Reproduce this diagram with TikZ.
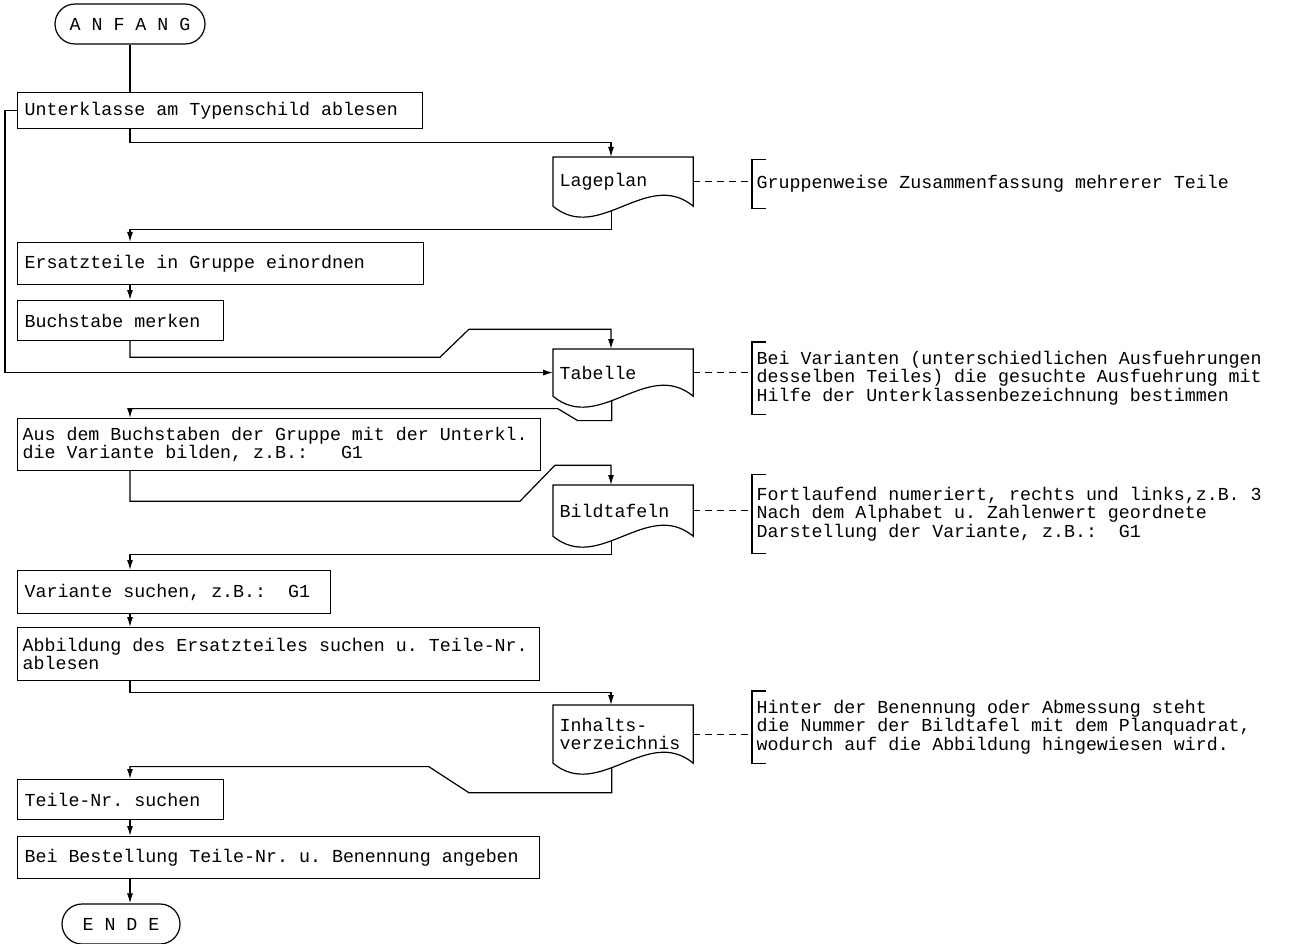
\documentclass[tikz,border=0pt]{standalone}
\usepackage{fontspec}
\setmonofont{Liberation Mono}
\usepackage{tikz}
\usetikzlibrary{arrows.meta, calc}

\begin{document}
\begin{tikzpicture}[x=1pt, y=-1pt, line width=1.2pt, >={Latex[length=10pt,width=6pt]},
		font=\ttfamily\fontsize{18.3}{18.6}\selectfont\frenchspacing,
		procbox/.style={draw, anchor=north west, inner xsep=7pt, inner ysep=0pt, align=flush left, text width=#1},
		docbox/.style={anchor=north west, inner xsep=6pt, inner ysep=0pt, align=flush left, text width=127pt},
		termbox/.style={draw, rounded corners=20pt, minimum height=40pt, inner sep=0pt},
		notebox/.style={anchor=west, inner xsep=4pt, align=left},
		hint/.style={dash pattern=on 7pt off 5pt}]
				\useasboundingbox (0,0) rectangle (1293,944);
				
					\coordinate (ax) at (130,0);
					\coordinate (rc) at (611,0);
					
					\node[termbox, minimum width=150pt] (anfang) at (130,24) {A N F A N G};
					\node[procbox=391pt, minimum height=36pt] (unterkl) at (17,92) {Unterklasse am Typenschild ablesen};
					\node[docbox, minimum height=48pt] (lage) at (553,157) {Lageplan};
					\node[procbox=392pt, minimum height=42pt] (ersatz) at (17,242) {Ersatzteile in Gruppe einordnen};
					\node[procbox=192pt, minimum height=40pt] (merken) at (17,300) {Buchstabe merken};
					\node[docbox, minimum height=46pt] (tab) at (553,349) {Tabelle};
					\node[procbox=513pt, inner xsep=5pt, minimum height=52pt] (aus) at (17,418) {Aus dem Buchstaben der Gruppe mit der Unterkl.\\die Variante bilden, z.B.:~~~G1};
					\node[docbox, minimum height=50pt] (bild) at (553,485) {Bildtafeln};
					\node[procbox=299pt, minimum height=43pt] (variante) at (17,570) {Variante suchen, z.B.:~~G1};
					\node[procbox=512pt, inner xsep=5pt, minimum height=53pt] (abb) at (17,627) {Abbildung des Ersatzteiles suchen u. Teile-Nr.\\ablesen};
					\node[docbox, minimum height=57pt] (inh) at (553,705) {Inhalts-\\verzeichnis};
					\node[procbox=192pt, minimum height=40pt] (teile) at (17,779) {Teile-Nr. suchen};
					\node[procbox=508pt, minimum height=42pt] (bestell) at (17,836) {Bei Bestellung Teile-Nr. u. Benennung angeben};
					\node[termbox, minimum width=118pt] (ende) at (121,924) {E N D E};
					
					\node[notebox, minimum height=48pt] (n1) at (752,184) {Gruppenweise Zusammenfassung mehrerer Teile};
					\node[notebox, minimum height=71pt] (n2) at (752,378) {Bei Varianten (unterschiedlichen Ausfuehrungen\\desselben Teiles) die gesuchte Ausfuehrung mit\\Hilfe der Unterklassenbezeichnung bestimmen};
					\node[notebox, minimum height=78pt] (n3) at (752,514) {Fortlaufend numeriert, rechts und links,z.B. 3\\Nach dem Alphabet u. Zahlenwert geordnete\\Darstellung der Variante, z.B.:~~G1};
					\node[notebox, minimum height=71pt] (n4) at (752,727) {Hinter der Benennung oder Abmessung steht\\die Nummer der Bildtafel mit dem Planquadrat,\\wodurch auf die Abbildung hingewiesen wird.};
					
					\foreach \d in {lage,tab,bild,inh}
						\draw (\d.north west) -- (\d.north east) -- (\d.south east) .. controls +(-46,-38) and +(46,38) .. (\d.south west) coordinate[pos=0.58] (\d-out) -- cycle;
					
					\foreach \n in {n1,n2,n3,n4}
						\draw ([xshift=14pt]\n.north west) -- (\n.north west) -- (\n.south west) -- ([xshift=14pt]\n.south west);
					
					\draw[hint] (lage.east) -- (n1.west |- lage.east);
					\draw[hint] (tab.east) -- (n2.west |- tab.east);
					\draw[hint] (bild.east) -- (n3.west |- bild.east);
					\draw[hint] (inh.east) -- (n4.west |- inh.east);
					
					\draw (anfang.south -| ax) -- (unterkl.north -| ax);
					\draw[->] (unterkl.south -| ax) -- ++(0,13) -| (lage.north -| rc);
					\draw[->] (lage-out) -- ++(0,19) -| (ersatz.north -| ax);
					\draw[->] (ersatz.south -| ax) -- (merken.north -| ax);
					\draw[->] (merken.south -| ax) -- ++(0,16) -- ++(310,0) -- ++(29,-28) -| (tab.north -| rc);
					\draw[->] (unterkl.west) -- ++(-12,0) |- (tab.west);
					\draw[->] (tab-out) -- ++(0,20) -- ++(-34,0) -- ++(-20,-12) -| (aus.north -| ax);
					\draw[->] (aus.south -| ax) -- ++(0,30) -- ++(390,0) -- ++(35,-36) -| (bild.north -| rc);
					\draw[->] (bild-out) -- ++(0,14) -| (variante.north -| ax);
					\draw[->] (variante.south -| ax) -- (abb.north -| ax);
					\draw[->] (abb.south -| ax) -- ++(0,11) -| (inh.north -| rc);
					\draw[->] (inh-out) -- ++(0,25) -- ++(-143,0) -- ++(-40,-26) -| (teile.north -| ax);
					\draw[->] (teile.south -| ax) -- (bestell.north -| ax);
					\draw[->] (bestell.south -| ax) -- (ende.north -| ax);
			\end{tikzpicture}
\end{document}
